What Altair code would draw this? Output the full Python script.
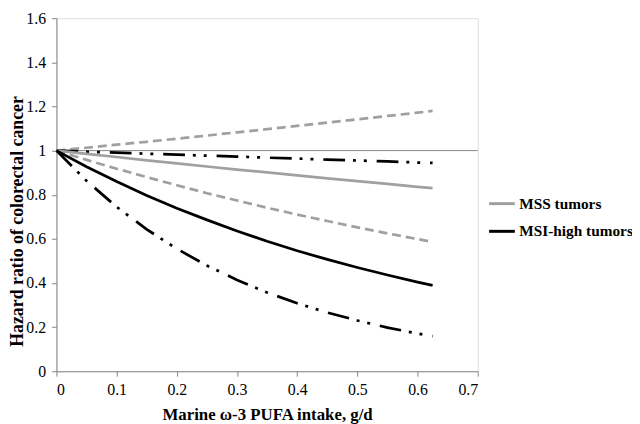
import altair as alt
import pandas as pd

# Marine omega-3 PUFA intake (g/d)
x_vals = [0, 0.05, 0.1, 0.15, 0.2, 0.25, 0.3, 0.35, 0.4, 0.45, 0.5, 0.55, 0.6, 0.625]

# MSS tumors: hazard ratio and 95% CI
mss_hr = [1.0, 0.985, 0.971, 0.956, 0.942, 0.928, 0.914, 0.901, 0.888, 0.874, 0.862, 0.849, 0.836, 0.830]
mss_up = [1.0, 1.013, 1.027, 1.040, 1.054, 1.068, 1.083, 1.097, 1.112, 1.127, 1.142, 1.157, 1.172, 1.180]
mss_lo = [1.0, 0.958, 0.918, 0.880, 0.843, 0.807, 0.774, 0.741, 0.710, 0.681, 0.652, 0.625, 0.599, 0.586]

# MSI-high tumors: hazard ratio and 95% CI
msi_hr = [1.0, 0.927, 0.860, 0.797, 0.739, 0.686, 0.636, 0.589, 0.546, 0.507, 0.470, 0.436, 0.404, 0.389]
msi_up = [1.0, 0.995, 0.991, 0.986, 0.982, 0.977, 0.973, 0.968, 0.964, 0.959, 0.955, 0.951, 0.946, 0.944]
msi_lo = [1.0, 0.863, 0.745, 0.643, 0.555, 0.479, 0.414, 0.357, 0.308, 0.266, 0.230, 0.198, 0.171, 0.159]

series_names = ["MSS tumors", "MSI-high tumors"]
x_ticks = [0, 0.1, 0.2, 0.3, 0.4, 0.5, 0.6, 0.7]
y_ticks = [0, 0.2, 0.4, 0.6, 0.8, 1.0, 1.2, 1.4, 1.6]
ref_x = [0, 0.7]
ref_y = [1, 1]

GRAY = "#a0a0a0"
BLACK = "#000000"
AXIS = "#868686"
FONT = "Liberation Serif"

rows = []
for name, arrs in [("MSS tumors", (mss_hr, mss_up, mss_lo)), ("MSI-high tumors", (msi_hr, msi_up, msi_lo))]:
    for kind, arr in zip(["hr", "upper", "lower"], arrs):
        for xv, yv in zip(x_vals, arr):
            rows.append({"x": xv, "y": yv, "series": name, "kind": kind})
df = pd.DataFrame(rows)

ref = pd.DataFrame({"x": ref_x, "y": ref_y})

xscale = alt.Scale(domain=[0, 0.7], nice=False)
yscale = alt.Scale(domain=[0, 1.6], nice=False)

xenc = alt.X("x:Q", scale=xscale, axis=alt.Axis(
    values=x_ticks, format=".1~f", title="Marine ω-3 PUFA intake, g/d",
    labelPadding=6, labelFont=FONT, labelFontSize=16,
    titleFont=FONT, titleFontSize=17, titlePadding=9))
yenc = alt.Y("y:Q", scale=yscale, axis=alt.Axis(
    values=y_ticks, format=".1~f", title="Hazard ratio of colorectal cancer",
    labelPadding=6, labelFont=FONT, labelFontSize=16,
    titleFont=FONT, titleFontSize=18,
    titleX=-39, titleY=205, titleBaseline="middle"))

ref_line = alt.Chart(ref).mark_line(color=AXIS, strokeWidth=1).encode(x=xenc, y=yenc)

mss_ci = alt.Chart(df).transform_filter(
    "datum.series == 'MSS tumors' && datum.kind != 'hr'"
).mark_line(color=GRAY, strokeWidth=2.75, strokeDash=[9, 5]).encode(
    x=xenc, y=yenc, detail="kind:N")

msi_ci = alt.Chart(df).transform_filter(
    "datum.series == 'MSI-high tumors' && datum.kind != 'hr'"
).mark_line(color=BLACK, strokeWidth=2.75, strokeDash=[22, 8, 3, 8, 3, 10]).encode(
    x=xenc, y=yenc, detail="kind:N")

main = alt.Chart(df).transform_filter("datum.kind == 'hr'").mark_line(strokeWidth=2.75).encode(
    x=xenc, y=yenc,
    color=alt.Color("series:N", scale=alt.Scale(domain=series_names, range=[GRAY, BLACK]),
                    legend=alt.Legend(title=None, orient="none", legendX=436, legendY=173,
                                      symbolType="stroke", symbolSize=676, symbolStrokeWidth=3,
                                      labelFontSize=15.5, labelFontWeight="bold",
                                      labelFont=FONT, labelColor="#000",
                                      labelOffset=3, rowPadding=5)))

chart = alt.layer(ref_line, mss_ci, msi_ci, main).properties(
    width=426, height=357,
    autosize=alt.AutoSizeParams(type="none"),
    padding={"left": 49, "top": 8, "right": 156, "bottom": 51},
).configure_view(stroke=None).configure(
    background="white",
    font=FONT,
    style={"guide-label": {"font": FONT}, "guide-title": {"font": FONT}},
).configure_axis(
    grid=False, domainColor=AXIS, tickColor=AXIS, tickSize=5, domainWidth=1,
    labelFont=FONT, labelFontSize=16, labelColor="#000",
    titleFont=FONT, titleFontWeight="bold", titleColor="#000",
)

chart.save("out.html", embed_options={"renderer": "svg", "actions": False})
